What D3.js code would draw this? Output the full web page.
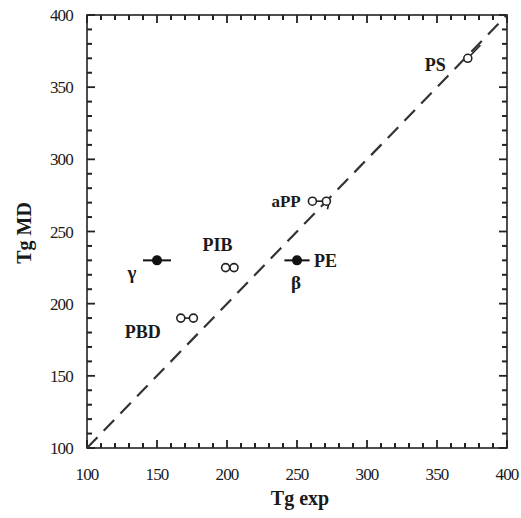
<!DOCTYPE html>
<html>
<head>
<meta charset="utf-8">
<script src="https://cdn.jsdelivr.net/npm/d3@7"></script>
<style>
  body { margin: 0; background: #fff; }
  text { font-family: "Liberation Serif", "Times New Roman", serif; fill: #1a1a1a; }
</style>
</head>
<body>
<svg id="chart" width="521" height="518"></svg>
<script>
// axis ticks
var majorTicks = [100, 150, 200, 250, 300, 350, 400];
var minorTicks = [110, 120, 130, 140, 160, 170, 180, 190, 210, 220, 230, 240,
    260, 270, 280, 290, 310, 320, 330, 340, 360, 370, 380, 390];

// filled points with horizontal error bars (gamma / beta relaxations)
var fullNames = ["γ", "PE"];
var fullX = [150, 250];
var fullY = [230, 230];
var fullErr = [10, 9];

// open circle pairs (two simulation values per polymer)
var pairNames = ["PIB", "PBD", "aPP", "PS"];
var pairX1 = [199, 167, 261, 372];
var pairX2 = [205, 176, 271, 381];
var pairY1 = [225, 190, 271, 370];
var pairY2 = [225, 190, 271, 379];
var secondCircle = [true, true, true, false];

// extra labels
var betaLabel = "β";

var svg = d3.select("#chart");
var pLeft = 87, pRight = 507, pTop = 15, pBottom = 448;

var x = d3.scaleLinear().domain([100, 400]).range([pLeft, pRight]);
var y = d3.scaleLinear().domain([100, 400]).range([pBottom, pTop]);

// frame
svg.append("rect")
    .attr("x", pLeft).attr("y", pTop)
    .attr("width", pRight - pLeft).attr("height", pBottom - pTop)
    .attr("fill", "none").attr("stroke", "#222").attr("stroke-width", 1.6);

// inward ticks on all four sides
function addTicks(values, len, w) {
    values.forEach(function (v) {
        var segs = [
            [x(v), pBottom, x(v), pBottom - len],
            [x(v), pTop, x(v), pTop + len],
            [pLeft, y(v), pLeft + len, y(v)],
            [pRight, y(v), pRight - len, y(v)]
        ];
        segs.forEach(function (s) {
            svg.append("line")
                .attr("x1", s[0]).attr("y1", s[1])
                .attr("x2", s[2]).attr("y2", s[3])
                .attr("stroke", "#222").attr("stroke-width", w);
        });
    });
}
addTicks(majorTicks, 8, 1.8);
addTicks(minorTicks, 5, 2);

// tick labels
svg.append("g").selectAll("text").data(majorTicks).join("text")
    .attr("x", function (d) { return x(d); })
    .attr("y", 480)
    .attr("text-anchor", "middle")
    .attr("font-size", 17)
    .attr("letter-spacing", -0.8)
    .text(function (d) { return d; });

svg.append("g").selectAll("text").data(majorTicks).join("text")
    .attr("x", 73)
    .attr("y", function (d) { return y(d) + 6; })
    .attr("text-anchor", "end")
    .attr("font-size", 17)
    .attr("letter-spacing", -0.8)
    .text(function (d) { return d; });

// axis titles
svg.append("text")
    .attr("x", 300).attr("y", 505)
    .attr("text-anchor", "middle")
    .attr("font-size", 20)
    .attr("font-weight", "bold")
    .text("Tg exp");

svg.append("text")
    .attr("transform", "translate(31," + 233 + ") rotate(-90)")
    .attr("text-anchor", "middle")
    .attr("font-size", 20)
    .attr("font-weight", "bold")
    .text("Tg MD");

// diagonal Tg MD = Tg exp
svg.append("line")
    .attr("x1", x(100)).attr("y1", y(100))
    .attr("x2", x(400)).attr("y2", y(400))
    .attr("stroke", "#333").attr("stroke-width", 2.2)
    .attr("stroke-dasharray", "15,9");

// open circle pairs
pairNames.forEach(function (name, i) {
    svg.append("line")
        .attr("x1", x(pairX1[i])).attr("y1", y(pairY1[i]))
        .attr("x2", x(pairX2[i])).attr("y2", y(pairY2[i]))
        .attr("stroke", "#222").attr("stroke-width", 1.6);
    if (name === "aPP") {
        svg.append("line")
            .attr("x1", x(pairX2[i]) + 3).attr("y1", y(pairY2[i]))
            .attr("x2", x(pairX2[i]) + 1).attr("y2", y(pairY2[i]) + 8)
            .attr("stroke", "#222").attr("stroke-width", 1.6);
    }
    svg.append("circle")
        .attr("cx", x(pairX1[i])).attr("cy", y(pairY1[i])).attr("r", 4)
        .attr("fill", "#fff").attr("stroke", "#222").attr("stroke-width", 1.6);
    if (secondCircle[i]) {
        svg.append("circle")
            .attr("cx", x(pairX2[i])).attr("cy", y(pairY2[i])).attr("r", 4)
            .attr("fill", "#fff").attr("stroke", "#222").attr("stroke-width", 1.6);
    }
});

// filled points with error bars
fullNames.forEach(function (name, i) {
    svg.append("line")
        .attr("x1", x(fullX[i] - fullErr[i])).attr("y1", y(fullY[i]))
        .attr("x2", x(fullX[i] + fullErr[i])).attr("y2", y(fullY[i]))
        .attr("stroke", "#111").attr("stroke-width", 2);
    svg.append("circle")
        .attr("cx", x(fullX[i])).attr("cy", y(fullY[i])).attr("r", 5)
        .attr("fill", "#111");
});

// labels, placed relative to their points
function label(txt, px, py, anchor, size) {
    svg.append("text")
        .attr("x", px).attr("y", py)
        .attr("text-anchor", anchor || "start")
        .attr("font-size", size || 18)
        .attr("font-weight", "bold")
        .text(txt);
}
label(fullNames[0], x(fullX[0]) - 25, y(fullY[0]) + 19, "middle", 19);
label(fullNames[1], x(fullX[1]) + 17, y(fullY[1]) + 7, "start", 18);
label(betaLabel, x(fullX[1]) - 1, y(fullY[1]) + 29, "middle", 19);
label(pairNames[0], x(pairX1[0]) - 23, y(pairY1[0]) - 17, "start", 18);
label(pairNames[1], x(pairX1[1]) - 56, y(pairY1[1]) + 20, "start", 18);
label(pairNames[2], x(pairX1[2]) - 41, y(pairY1[2]) + 6, "start", 17);
label(pairNames[3], x(pairX1[3]) - 43, y(pairY1[3]) + 13, "start", 18);
</script>
</body>
</html>
